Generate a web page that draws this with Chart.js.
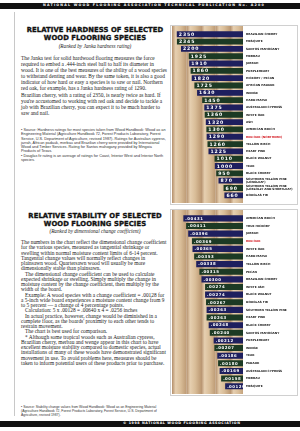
<!DOCTYPE html>
<html>
<head>
<meta charset="utf-8">
<script src="https://cdn.jsdelivr.net/npm/chart.js@4.4.1/dist/chart.umd.min.js"></script>
<style>
  html, body { margin: 0; padding: 0; background: #fff; }
  body { width: 300px; height: 431px; position: relative; overflow: hidden; }
  .band { position: absolute; left: 0; width: 300px; background: #111; color: #fff;
          font: bold 3.3px "DejaVu Sans", sans-serif; letter-spacing: 1.2px; white-space: nowrap; }
  .page { position: absolute; left: 14px; top: 12px; width: 284px; height: 404px; border-left: 1px solid #c8c8c8; }
  .title { position: absolute; left: 20px; width: 150px; text-align: center; color: #111;
           font: bold 6.8px "DejaVu Sans", sans-serif; line-height: 8px; letter-spacing: 0.1px;
           -webkit-text-stroke: 0.35px #111; }
  .sub { position: absolute; left: 20px; width: 150px; text-align: center; color: #222;
         font: italic 5.2px "Liberation Serif", serif; }
  .body { position: absolute; left: 21px; width: 146px; color: #222;
          font: 5.4px "Liberation Serif", serif; }
  .body p { margin: 0; text-indent: 4px; }
  .body p.first { text-indent: 0; }
  .note { position: absolute; left: 21px; width: 146px; color: #333;
          font: 3.8px "Liberation Sans", sans-serif; line-height: 4.3px; }
  .panel { position: absolute; left: 170px; width: 128px; border: 1px solid #d0d0d0; box-sizing: border-box; }
  canvas { position: absolute; left: 170px; }
</style>
</head>
<body>
<div class="band" style="top:3px;height:5.5px;line-height:5.5px;padding-left:43px;box-sizing:border-box;">NATIONAL WOOD FLOORING ASSOCIATION TECHNICAL PUBLICATION No. A200</div>
<div class="page"></div>

<div class="title" style="top:26px;">RELATIVE HARDNESS OF SELECTED<br>WOOD FLOORING SPECIES</div>
<div class="sub" style="top:43px;">(Ranked by Janka hardness rating)</div>
<div class="body" style="top:55px;line-height:6.1px;">
  <p class="first">The Janka test for solid hardwood flooring measures the force required to embed a .444-inch steel ball to half its diameter in wood. It is one of the best measures of the ability of a wood species to withstand denting and wear. By the same token, it is also a good indicator of how hard or easy a species is to saw or nail. Northern red oak, for example, has a Janka hardness rating of 1290. Brazilian cherry, with a rating of 2350, is nearly twice as hard. If you're accustomed to working with red oak and decide to tackle a job with Brazilian cherry, you can expect it to be much harder to saw and nail.</p>
</div>
<div class="note" style="top:128px;">
  • Source: Hardness ratings for most species taken from Wood Handbook: Wood as an Engineering Material (Agriculture Handbook 72, Forest Products Laboratory, Forest Service, U.S. Department of Agriculture, revised 1987). Ratings for Australian cypress, jarrah, African padauk, merbau and Brazilian cherry were provided by International Wood and Timber Services. Rating for Santos mahogany provided by Mingoia Products of Texas.<br>
  • Douglas fir rating is an average of ratings for Coast, Interior West and Interior North species.
</div>

<div class="panel" style="top:25px;height:180px;"></div>
<canvas id="hardness" width="128" height="178" style="top:26px;"></canvas>

<div class="title" style="top:212px;">RELATIVE STABILITY OF SELECTED<br>WOOD FLOORING SPECIES</div>
<div class="sub" style="top:228px;">(Ranked by dimensional change coefficient)</div>
<div class="body" style="top:240px;line-height:5.25px;">
  <p class="first">The numbers in the chart reflect the dimensional change coefficient for the various species, measured as tangential shrinkage or swelling within normal moisture content limits of 6-14 percent. Tangential change values will normally reflect changes in plainsawn wood. Quartersawn wood will usually be more dimensionally stable than plainsawn.</p>
  <p>The dimensional change coefficient can be used to calculate expected shrinkage or swelling. Simply multiply the change in moisture content by the change coefficient, then multiply by the width of the board.</p>
  <p>Example: A wood species with a change coefficient = .00128 for a 5-inch wide board experiences a moisture content change from 9 to 5 percent — a change of 4 percentage points.</p>
  <p>Calculation: 5 x .00128 = .00640 x 4 = .0256 inches</p>
  <p>In actual practice, however, change would be diminished in a complete floor, as the boards' proximity to each other tends to restrain movement.</p>
  <p>The chart is best used for comparison.</p>
  <p>* Although some tropical woods such as Australian cypress, Brazilian cherry, merbau and wenge appear in this chart to have excellent moisture stability compared to domestic species, actual installations of many of these woods have demonstrated significant movement in use. To avoid problems here, measures should be taken to inform potential users of these products prior to purchase.</p>
</div>
<div class="note" style="top:406px;line-height:3.9px;font-size:3.4px;">
  • Source: Stability change values from Wood Handbook: Wood as an Engineering Material (Agriculture Handbook 72, Forest Products Laboratory, Forest Service, U.S. Department of Agriculture, revised 1987).
</div>

<div class="panel" style="top:209px;height:187px;"></div>
<canvas id="stability" width="128" height="185" style="top:210px;"></canvas>

<div class="band" style="top:421px;height:5.5px;line-height:5.5px;padding-left:123px;box-sizing:border-box;letter-spacing:0.6px;">© 1998 NATIONAL WOOD FLOORING ASSOCIATION</div>

<script>
// hardness chart (Janka)
const hardnessSpecies = [
    'BRAZILIAN CHERRY', 'MESQUITE', 'SANTOS MAHOGANY', 'MERBAU', 'JARRAH', 'PURPLEHEART',
    'HICKORY / PECAN', 'AFRICAN PADAUK', 'WENGE', 'HARD MAPLE', 'AUSTRALIAN CYPRESS',
    'WHITE OAK', 'ASH', 'AMERICAN BEECH', 'RED OAK (NORTHERN)', 'YELLOW BIRCH', 'HEART PINE',
    'BLACK WALNUT', 'TEAK', 'BLACK CHERRY',
    ['SOUTHERN YELLOW PINE', '(LONGLEAF)'],
    ['SOUTHERN YELLOW PINE', '(LOBLOLLY AND SHORTLEAF)'],
    'DOUGLAS FIR'
];
const hardnessValues = [2350, 2345, 2200, 1925, 1910, 1860, 1820, 1725, 1630, 1450, 1375,
    1360, 1320, 1300, 1290, 1260, 1225, 1010, 1000, 950, 870, 690, 660];

// stability chart (dimensional change coefficient)
const stabilitySpecies = [
    'AMERICAN BEECH', 'TRUE HICKORY', 'JARRAH', 'RED OAK', 'WHITE OAK', 'HARD MAPLE',
    'YELLOW BIRCH', 'PECAN', 'BRAZILIAN CHERRY', 'WHITE ASH', 'BLACK WALNUT', 'DOUGLAS FIR',
    'SOUTHERN YELLOW PINE', 'HEART PINE', 'BLACK CHERRY', 'SANTOS MAHOGANY', 'PURPLEHEART',
    'WENGE', 'TEAK', 'PADAUK', 'AUSTRALIAN CYPRESS', 'MERBAU', 'MESQUITE'
];
const stabilityValues = [0.00431, 0.00411, 0.00396, 0.00369, 0.00365, 0.00353, 0.00338,
    0.00315, 0.00300, 0.00274, 0.00274, 0.00267, 0.00263, 0.00263, 0.00248, 0.00240,
    0.00212, 0.00207, 0.00186, 0.00180, 0.00169, 0.00158, 0.00129];

const NAVY = '#1e1f5e';
const GREEN = '#1c3a24';
const RED = '#d3161e';

// plank background behind the bars
const woodPlugin = {
    id: 'wood',
    beforeDraw(chart) {
        const { ctx, chartArea } = chart;
        const left = chartArea.left, right = chartArea.right;
        const top = 0, bottom = chart.height - 1;
        const plank = 14.5;
        ctx.save();
        for (let x = left; x < right; x += plank) {
            const w = Math.min(plank, right - x);
            const g = ctx.createLinearGradient(x, 0, x + plank, 0);
            g.addColorStop(0, '#b38e6a');
            g.addColorStop(0.25, '#e6cfb0');
            g.addColorStop(0.6, '#d9bd98');
            g.addColorStop(1, '#bd9a74');
            ctx.fillStyle = g;
            ctx.fillRect(x, top, w, bottom - top);
        }
        ctx.restore();
    }
};

// value written at the left end of every bar
const valuePlugin = {
    id: 'barValues',
    afterDatasetsDraw(chart, args, opts) {
        const { ctx } = chart;
        const meta = chart.getDatasetMeta(0);
        ctx.save();
        ctx.fillStyle = '#fff';
        ctx.font = opts.font;
        ctx.letterSpacing = opts.spacing;
        ctx.textBaseline = 'middle';
        ctx.textAlign = 'left';
        meta.data.forEach((bar, i) => {
            ctx.fillText(opts.format(chart.data.datasets[0].data[i]), bar.x + 2, bar.y + 0.3);
        });
        ctx.restore();
    }
};

function makeChart(id, labels, values, max, format, valueFont, spacing) {
    const colors = values.map((v, i) => i % 2 === 0 ? NAVY : GREEN);
    return new Chart(document.getElementById(id), {
        type: 'bar',
        data: {
            labels: labels,
            datasets: [{
                data: values,
                backgroundColor: colors,
                borderWidth: 0,
                barPercentage: 0.8,
                categoryPercentage: 1
            }]
        },
        options: {
            indexAxis: 'y',
            responsive: false,
            animation: false,
            devicePixelRatio: 1,
            layout: { padding: { left: 2, top: 1, bottom: 5, right: 0 } },
            plugins: {
                legend: { display: false },
                tooltip: { enabled: false },
                barValues: { font: valueFont, spacing: spacing, format: format }
            },
            scales: {
                x: { type: 'linear', reverse: true, min: 0, max: max, display: false },
                y: {
                    position: 'right',
                    grid: { display: false, drawTicks: false },
                    border: { display: false },
                    afterFit(scale) { scale.width = 55; },
                    ticks: {
                        padding: 3,
                        autoSkip: false,
                        font: { family: 'DejaVu Sans', size: 2.9, weight: 'bold', lineHeight: 1.1 },
                        color: ctx => {
                            const l = labels[ctx.index];
                            return (typeof l === 'string' && l.startsWith('RED OAK')) ? RED : '#111';
                        }
                    }
                }
            }
        },
        plugins: [woodPlugin, valuePlugin]
    });
}

makeChart('hardness', hardnessSpecies, hardnessValues, 2520,
    v => String(v), 'bold 4.6px "DejaVu Sans"', '0.9px');
makeChart('stability', stabilitySpecies, stabilityValues, 0.00513,
    v => v.toFixed(5).slice(1), 'bold 3.9px "DejaVu Sans"', '0.5px');
</script>
</body>
</html>
